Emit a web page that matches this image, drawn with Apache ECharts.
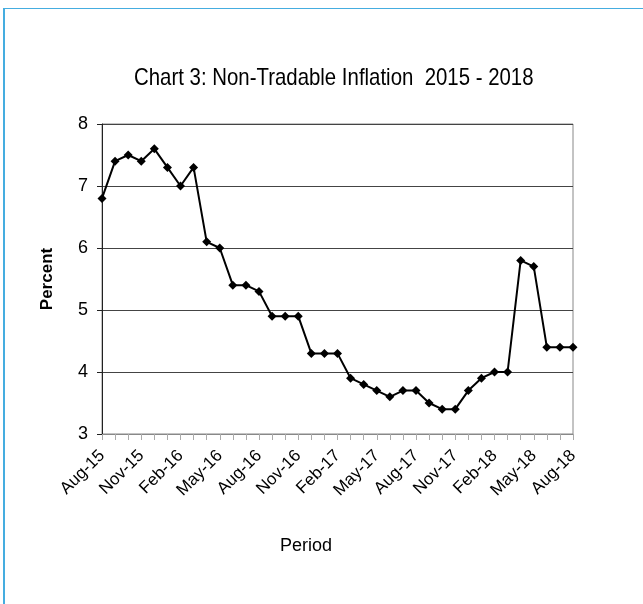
<!DOCTYPE html>
<html>
<head>
<meta charset="utf-8">
<script src="https://cdn.jsdelivr.net/npm/echarts@6/dist/echarts.min.js"></script>
<style>
  html, body { margin: 0; padding: 0; background: #fff; }
  .wrap { position: relative; width: 643px; height: 604px; overflow: hidden; }
  .frame { position: absolute; left: 3px; top: 8px; width: 700px; height: 700px;
           border-left: 2px solid #45ade0; border-top: 1px solid #45ade0; }
  #chart { position: absolute; left: 0; top: 0; width: 643px; height: 604px; }
</style>
</head>
<body>
<div class="wrap">
  <div class="frame"></div>
  <div id="chart"></div>
</div>
<script>
// monthly, Aug-15 .. Aug-18
const months = ['Aug-15','Sep-15','Oct-15','Nov-15','Dec-15','Jan-16','Feb-16','Mar-16','Apr-16',
  'May-16','Jun-16','Jul-16','Aug-16','Sep-16','Oct-16','Nov-16','Dec-16','Jan-17','Feb-17',
  'Mar-17','Apr-17','May-17','Jun-17','Jul-17','Aug-17','Sep-17','Oct-17','Nov-17','Dec-17',
  'Jan-18','Feb-18','Mar-18','Apr-18','May-18','Jun-18','Jul-18','Aug-18'];
const inflation = [6.8, 7.4, 7.5, 7.4, 7.6, 7.3, 7.0, 7.3, 6.1, 6.0, 5.4, 5.4, 5.3, 4.9, 4.9, 4.9,
  4.3, 4.3, 4.3, 3.9, 3.8, 3.7, 3.6, 3.7, 3.7, 3.5, 3.4, 3.4, 3.7, 3.9, 4.0, 4.0,
  5.8, 5.7, 4.4, 4.4, 4.4];
const yTicks = [3, 4, 5, 6, 7, 8];

const font = 'Liberation Sans, Arial, sans-serif';
let chart = echarts.init(document.getElementById('chart'));
chart.setOption({
  animation: false,
  // title and x name as graphic text: the original uses a narrow font and an off-centre label
  graphic: [{
    type: 'text',
    x: 134, y: 78,
    scaleX: 0.85,
    style: {
      text: 'Chart 3: Non-Tradable Inflation  2015 - 2018',
      font: '24px Liberation Sans, Arial, sans-serif',
      fill: '#000',
      verticalAlign: 'middle'
    }
  }, {
    type: 'text',
    x: 306, y: 546,
    style: {
      text: 'Period',
      font: '18px Liberation Sans, Arial, sans-serif',
      fill: '#000',
      align: 'center',
      verticalAlign: 'middle'
    }
  }],
  grid: {
    left: 102, right: 70, top: 124, bottom: 170,
    show: true, borderColor: '#888', borderWidth: 1, containLabel: false
  },
  xAxis: {
    type: 'category',
    data: months,
    boundaryGap: false,
    axisLine: { lineStyle: { color: '#888', width: 1 } },
    axisTick: { show: true, interval: 0, length: 6, lineStyle: { color: '#aaa' } },
    axisLabel: { interval: 2, rotate: 45, fontFamily: font, fontSize: 17, color: '#000', margin: 19 },
    splitLine: { show: false }
  },
  yAxis: {
    type: 'value',
    min: yTicks[0], max: yTicks[yTicks.length - 1], interval: 1,
    name: 'Percent',
    nameLocation: 'middle',
    nameGap: 46,
    nameRotate: 90,
    nameTextStyle: { fontFamily: font, fontSize: 17, fontWeight: 'bold', color: '#000' },
    axisLine: { show: true, lineStyle: { color: '#222', width: 1 } },
    axisTick: { show: true, length: 5, lineStyle: { color: '#222' } },
    axisLabel: { fontFamily: font, fontSize: 18, color: '#000', margin: 14 },
    splitLine: { lineStyle: { color: '#444', width: 1 } }
  },
  series: [{
    name: 'Non-Tradable Inflation',
    type: 'line',
    data: inflation,
    symbol: 'diamond',
    symbolSize: 9,
    showAllSymbol: true,
    lineStyle: { color: '#000', width: 2 },
    itemStyle: { color: '#000' }
  }]
});
</script>
</body>
</html>
